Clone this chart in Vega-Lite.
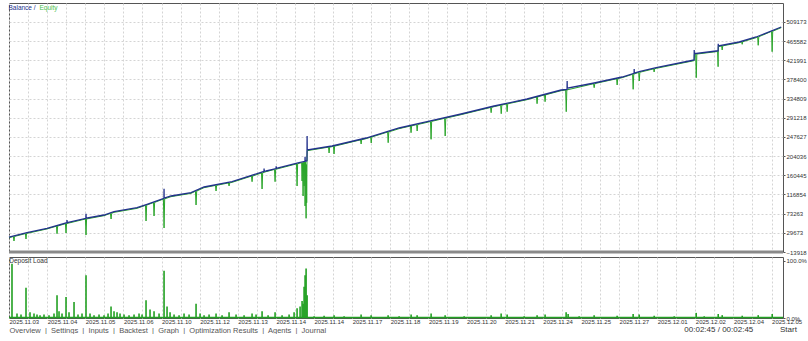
{
  "$schema": "https://vega.github.io/schema/vega-lite/v6.json",
  "padding": {"left": 5, "top": 2, "right": 0, "bottom": 0},
  "background": "white",
  "spacing": 0,
  "title": {"text": "00:02:45 / 00:02:45\u00a0\u00a0\u00a0\u00a0\u00a0\u00a0\u00a0\u00a0\u00a0\u00a0\u00a0\u00a0Start", "orient": "bottom", "anchor": "end", "offset": -8, "dx": -10, "fontSize": 8, "fontWeight": "normal", "color": "#333", "font": "Liberation Sans"},
  "config": {
    "view": {"stroke": "#555", "strokeWidth": 1},
    "font": "Liberation Sans",
    "axis": {"gridColor": "#d4d4d4", "gridDash": [2, 2], "gridWidth": 1, "labelFont": "Liberation Sans", "labelColor": "#333", "domain": false, "tickColor": "#555", "labelOverlap": false, "tickCount": 200}
  },
  "datasets": {
    "bal": [
      {"s": "Balance", "t": 0, "v": 20000}, {"s": "Balance", "t": 9.44, "v": 30000}, {"s": "Balance", "t": 19.94, "v": 40000},
      {"s": "Balance", "t": 30.38, "v": 52600}, {"s": "Balance", "t": 30.43, "v": 58850}, {"s": "Balance", "t": 30.48, "v": 52800},
      {"s": "Balance", "t": 40.35, "v": 62600}, {"s": "Balance", "t": 40.4, "v": 73178}, {"s": "Balance", "t": 40.45, "v": 62800},
      {"s": "Balance", "t": 49.85, "v": 70220}, {"s": "Balance", "t": 55.09, "v": 77724}, {"s": "Balance", "t": 67.16, "v": 86820},
      {"s": "Balance", "t": 72.41, "v": 94552}, {"s": "Balance", "t": 81.28, "v": 108196}, {"s": "Balance", "t": 81.33, "v": 130026},
      {"s": "Balance", "t": 81.38, "v": 108400}, {"s": "Balance", "t": 85.0, "v": 113426}, {"s": "Balance", "t": 95.5, "v": 120930},
      {"s": "Balance", "t": 102.32, "v": 133892}, {"s": "Balance", "t": 117.01, "v": 145944},
      {"s": "Balance", "t": 133.75, "v": 169200}, {"s": "Balance", "t": 133.8, "v": 176000}, {"s": "Balance", "t": 133.85, "v": 169500},
      {"s": "Balance", "t": 134.85, "v": 170276},
      {"s": "Balance", "t": 140.08, "v": 175900}, {"s": "Balance", "t": 140.13, "v": 181000}, {"s": "Balance", "t": 140.18, "v": 176000},
      {"s": "Balance", "t": 152.16, "v": 189150},
      {"s": "Balance", "t": 155.25, "v": 192400}, {"s": "Balance", "t": 155.31, "v": 202794}, {"s": "Balance", "t": 155.37, "v": 192600},
      {"s": "Balance", "t": 155.84, "v": 193016}, {"s": "Balance", "t": 156.3, "v": 193400}, {"s": "Balance", "t": 156.37, "v": 249866},
      {"s": "Balance", "t": 156.44, "v": 218030}, {"s": "Balance", "t": 169.48, "v": 227126}, {"s": "Balance", "t": 187.32, "v": 245318},
      {"s": "Balance", "t": 204.63, "v": 268058}, {"s": "Balance", "t": 219.32, "v": 282384}, {"s": "Balance", "t": 237.16, "v": 299894},
      {"s": "Balance", "t": 254.48, "v": 318086}, {"s": "Balance", "t": 271.79, "v": 334004}, {"s": "Balance", "t": 289.63, "v": 354470},
      {"s": "Balance", "t": 292.72, "v": 356000}, {"s": "Balance", "t": 292.78, "v": 374936}, {"s": "Balance", "t": 292.84, "v": 358500},
      {"s": "Balance", "t": 306.95, "v": 370388}, {"s": "Balance", "t": 321.64, "v": 384032},
      {"s": "Balance", "t": 327.88, "v": 392500}, {"s": "Balance", "t": 327.94, "v": 402224}, {"s": "Balance", "t": 328.0, "v": 392800},
      {"s": "Balance", "t": 330.56, "v": 396084}, {"s": "Balance", "t": 339.48, "v": 405180}, {"s": "Balance", "t": 356.8, "v": 420416},
      {"s": "Balance", "t": 359.38, "v": 422690}, {"s": "Balance", "t": 359.43, "v": 445430}, {"s": "Balance", "t": 359.48, "v": 437016},
      {"s": "Balance", "t": 370.97, "v": 443156}, {"s": "Balance", "t": 371.96, "v": 443600}, {"s": "Balance", "t": 372.02, "v": 459756},
      {"s": "Balance", "t": 372.08, "v": 454526}, {"s": "Balance", "t": 383.04, "v": 463622}, {"s": "Balance", "t": 391.96, "v": 474992},
      {"s": "Balance", "t": 405.07, "v": 497732}
    ],
    "eq": [
      {"s": "Equity", "t": 0, "v": 18500},
      {"s": "Equity", "t": 2.3, "v": 21300}, {"s": "Equity", "t": 2.62, "v": 11096}, {"s": "Equity", "t": 2.9, "v": 21500},
      {"s": "Equity", "t": 8.6, "v": 27900}, {"s": "Equity", "t": 8.92, "v": 15644}, {"s": "Equity", "t": 9.2, "v": 28100},
      {"s": "Equity", "t": 9.44, "v": 28500}, {"s": "Equity", "t": 19.94, "v": 38500},
      {"s": "Equity", "t": 24.9, "v": 44800}, {"s": "Equity", "t": 25.19, "v": 27696}, {"s": "Equity", "t": 25.5, "v": 45000},
      {"s": "Equity", "t": 29.6, "v": 50500}, {"s": "Equity", "t": 29.91, "v": 29288}, {"s": "Equity", "t": 30.2, "v": 50700},
      {"s": "Equity", "t": 40.1, "v": 61100}, {"s": "Equity", "t": 40.4, "v": 24740}, {"s": "Equity", "t": 40.7, "v": 61300},
      {"s": "Equity", "t": 49.85, "v": 68720},
      {"s": "Equity", "t": 53.2, "v": 73900}, {"s": "Equity", "t": 53.54, "v": 61124}, {"s": "Equity", "t": 53.85, "v": 74100},
      {"s": "Equity", "t": 55.09, "v": 76224}, {"s": "Equity", "t": 67.16, "v": 85320},
      {"s": "Equity", "t": 71.6, "v": 92200}, {"s": "Equity", "t": 71.88, "v": 56576}, {"s": "Equity", "t": 72.2, "v": 92400},
      {"s": "Equity", "t": 72.41, "v": 93052},
      {"s": "Equity", "t": 75.8, "v": 98600}, {"s": "Equity", "t": 76.08, "v": 67946}, {"s": "Equity", "t": 76.4, "v": 98900},
      {"s": "Equity", "t": 81.0, "v": 106500}, {"s": "Equity", "t": 81.33, "v": 40658}, {"s": "Equity", "t": 81.65, "v": 106900},
      {"s": "Equity", "t": 85.0, "v": 111926}, {"s": "Equity", "t": 95.5, "v": 119430},
      {"s": "Equity", "t": 97.8, "v": 124300}, {"s": "Equity", "t": 98.12, "v": 92960}, {"s": "Equity", "t": 98.45, "v": 124600},
      {"s": "Equity", "t": 102.32, "v": 132392},
      {"s": "Equity", "t": 108.3, "v": 137500}, {"s": "Equity", "t": 108.61, "v": 124796}, {"s": "Equity", "t": 108.9, "v": 137700},
      {"s": "Equity", "t": 115.1, "v": 143100}, {"s": "Equity", "t": 115.43, "v": 136166}, {"s": "Equity", "t": 115.75, "v": 143300},
      {"s": "Equity", "t": 117.01, "v": 144444},
      {"s": "Equity", "t": 127.2, "v": 158700}, {"s": "Equity", "t": 127.5, "v": 145944}, {"s": "Equity", "t": 127.8, "v": 158900},
      {"s": "Equity", "t": 132.45, "v": 165800}, {"s": "Equity", "t": 132.75, "v": 129344}, {"s": "Equity", "t": 133.05, "v": 166100},
      {"s": "Equity", "t": 134.85, "v": 168776},
      {"s": "Equity", "t": 139.27, "v": 173800}, {"s": "Equity", "t": 139.57, "v": 145944}, {"s": "Equity", "t": 139.87, "v": 174100},
      {"s": "Equity", "t": 150.8, "v": 186400}, {"s": "Equity", "t": 151.11, "v": 136166}, {"s": "Equity", "t": 151.4, "v": 186700},
      {"s": "Equity", "t": 152.16, "v": 187650},
      {"s": "Equity", "t": 153.5, "v": 189000}, {"s": "Equity", "t": 153.73, "v": 147536}, {"s": "Equity", "t": 154.0, "v": 189500},
      {"s": "Equity", "t": 154.26, "v": 113426}, {"s": "Equity", "t": 154.5, "v": 190000}, {"s": "Equity", "t": 154.79, "v": 136166},
      {"s": "Equity", "t": 155.05, "v": 190500}, {"s": "Equity", "t": 155.31, "v": 90686}, {"s": "Equity", "t": 155.55, "v": 191000},
      {"s": "Equity", "t": 155.84, "v": 62716}, {"s": "Equity", "t": 156.0, "v": 185000}, {"s": "Equity", "t": 156.15, "v": 98056},
      {"s": "Equity", "t": 156.3, "v": 191800}, {"s": "Equity", "t": 156.44, "v": 216530},
      {"s": "Equity", "t": 167.6, "v": 224500}, {"s": "Equity", "t": 167.9, "v": 211208}, {"s": "Equity", "t": 168.2, "v": 224700},
      {"s": "Equity", "t": 169.48, "v": 225626},
      {"s": "Equity", "t": 170.2, "v": 226500}, {"s": "Equity", "t": 170.5, "v": 208934}, {"s": "Equity", "t": 170.8, "v": 226800},
      {"s": "Equity", "t": 184.4, "v": 241100}, {"s": "Equity", "t": 184.7, "v": 231674}, {"s": "Equity", "t": 185.0, "v": 241400},
      {"s": "Equity", "t": 187.32, "v": 243818},
      {"s": "Equity", "t": 189.7, "v": 247200}, {"s": "Equity", "t": 190.0, "v": 233948}, {"s": "Equity", "t": 190.3, "v": 247500},
      {"s": "Equity", "t": 198.6, "v": 258900}, {"s": "Equity", "t": 198.9, "v": 234630}, {"s": "Equity", "t": 199.2, "v": 259200},
      {"s": "Equity", "t": 204.63, "v": 266558},
      {"s": "Equity", "t": 210.6, "v": 272600}, {"s": "Equity", "t": 210.9, "v": 257370}, {"s": "Equity", "t": 211.2, "v": 272900},
      {"s": "Equity", "t": 213.8, "v": 275700}, {"s": "Equity", "t": 214.1, "v": 261236}, {"s": "Equity", "t": 214.4, "v": 276000},
      {"s": "Equity", "t": 219.32, "v": 280884},
      {"s": "Equity", "t": 221.1, "v": 282800}, {"s": "Equity", "t": 221.4, "v": 242362}, {"s": "Equity", "t": 221.7, "v": 283100},
      {"s": "Equity", "t": 228.5, "v": 290100}, {"s": "Equity", "t": 228.8, "v": 249866}, {"s": "Equity", "t": 229.1, "v": 290400},
      {"s": "Equity", "t": 237.16, "v": 298394},
      {"s": "Equity", "t": 252.6, "v": 314800}, {"s": "Equity", "t": 252.9, "v": 302850}, {"s": "Equity", "t": 253.2, "v": 315100},
      {"s": "Equity", "t": 254.48, "v": 316586},
      {"s": "Equity", "t": 257.9, "v": 319900}, {"s": "Equity", "t": 258.2, "v": 300576}, {"s": "Equity", "t": 258.5, "v": 320200},
      {"s": "Equity", "t": 261.0, "v": 322800}, {"s": "Equity", "t": 261.3, "v": 305124}, {"s": "Equity", "t": 261.6, "v": 323100},
      {"s": "Equity", "t": 271.79, "v": 332504},
      {"s": "Equity", "t": 276.7, "v": 338500}, {"s": "Equity", "t": 277.0, "v": 323316}, {"s": "Equity", "t": 277.3, "v": 338800},
      {"s": "Equity", "t": 280.9, "v": 343300}, {"s": "Equity", "t": 281.2, "v": 327864}, {"s": "Equity", "t": 281.5, "v": 343600},
      {"s": "Equity", "t": 289.63, "v": 352970},
      {"s": "Equity", "t": 292.0, "v": 354400}, {"s": "Equity", "t": 292.3, "v": 305124}, {"s": "Equity", "t": 292.6, "v": 354600},
      {"s": "Equity", "t": 306.6, "v": 368700}, {"s": "Equity", "t": 306.95, "v": 359700}, {"s": "Equity", "t": 307.3, "v": 369100},
      {"s": "Equity", "t": 318.7, "v": 380000}, {"s": "Equity", "t": 319.0, "v": 365840}, {"s": "Equity", "t": 319.3, "v": 380300},
      {"s": "Equity", "t": 321.64, "v": 382532},
      {"s": "Equity", "t": 327.1, "v": 390200}, {"s": "Equity", "t": 327.4, "v": 356062}, {"s": "Equity", "t": 327.7, "v": 390500},
      {"s": "Equity", "t": 330.3, "v": 394300}, {"s": "Equity", "t": 330.6, "v": 374936}, {"s": "Equity", "t": 330.9, "v": 394800},
      {"s": "Equity", "t": 338.1, "v": 402500}, {"s": "Equity", "t": 338.4, "v": 395402}, {"s": "Equity", "t": 338.7, "v": 402900},
      {"s": "Equity", "t": 339.48, "v": 403680}, {"s": "Equity", "t": 356.8, "v": 418916},
      {"s": "Equity", "t": 359.38, "v": 421190}, {"s": "Equity", "t": 359.48, "v": 435516},
      {"s": "Equity", "t": 360.2, "v": 436000}, {"s": "Equity", "t": 360.5, "v": 382440}, {"s": "Equity", "t": 360.8, "v": 436200},
      {"s": "Equity", "t": 370.97, "v": 441656},
      {"s": "Equity", "t": 371.7, "v": 442000}, {"s": "Equity", "t": 371.96, "v": 407454}, {"s": "Equity", "t": 372.08, "v": 453026},
      {"s": "Equity", "t": 373.8, "v": 454600}, {"s": "Equity", "t": 374.1, "v": 445430}, {"s": "Equity", "t": 374.4, "v": 454900},
      {"s": "Equity", "t": 383.04, "v": 462122},
      {"s": "Equity", "t": 384.3, "v": 464000}, {"s": "Equity", "t": 384.6, "v": 458392}, {"s": "Equity", "t": 384.9, "v": 464300},
      {"s": "Equity", "t": 391.96, "v": 473492},
      {"s": "Equity", "t": 392.7, "v": 475200}, {"s": "Equity", "t": 393.0, "v": 456118}, {"s": "Equity", "t": 393.3, "v": 475500},
      {"s": "Equity", "t": 400.0, "v": 487900}, {"s": "Equity", "t": 400.3, "v": 441564}, {"s": "Equity", "t": 400.6, "v": 488200},
      {"s": "Equity", "t": 405.07, "v": 496232}
    ],
    "load": [
      {"t": 1.57, "p": 0.95}, {"t": 4.2, "p": 0.08}, {"t": 6.3, "p": 0.06}, {"t": 8.92, "p": 0.53}, {"t": 11.02, "p": 0.1},
      {"t": 13.12, "p": 0.08}, {"t": 14.69, "p": 0.06}, {"t": 16.27, "p": 0.05}, {"t": 18.36, "p": 0.06}, {"t": 20.99, "p": 0.05},
      {"t": 23.61, "p": 0.08}, {"t": 25.19, "p": 0.4}, {"t": 26.24, "p": 0.12}, {"t": 27.81, "p": 0.08}, {"t": 29.91, "p": 0.37},
      {"t": 31.48, "p": 0.1}, {"t": 34.11, "p": 0.28}, {"t": 36.2, "p": 0.06}, {"t": 38.3, "p": 0.08}, {"t": 40.4, "p": 0.75},
      {"t": 42.5, "p": 0.08}, {"t": 44.6, "p": 0.05}, {"t": 47.22, "p": 0.06}, {"t": 49.85, "p": 0.05}, {"t": 51.95, "p": 0.08},
      {"t": 53.52, "p": 0.2}, {"t": 55.09, "p": 0.12}, {"t": 56.67, "p": 0.1}, {"t": 58.24, "p": 0.08}, {"t": 60.34, "p": 0.06},
      {"t": 62.96, "p": 0.05}, {"t": 65.59, "p": 0.06}, {"t": 68.21, "p": 0.08}, {"t": 69.79, "p": 0.06}, {"t": 71.88, "p": 0.31},
      {"t": 73.98, "p": 0.15}, {"t": 76.08, "p": 0.12}, {"t": 78.71, "p": 0.08}, {"t": 81.33, "p": 0.83}, {"t": 82.9, "p": 0.2},
      {"t": 84.48, "p": 0.1}, {"t": 86.58, "p": 0.06}, {"t": 89.2, "p": 0.05}, {"t": 91.82, "p": 0.08}, {"t": 94.45, "p": 0.06},
      {"t": 98.12, "p": 0.25}, {"t": 100.22, "p": 0.08}, {"t": 102.32, "p": 0.05}, {"t": 104.94, "p": 0.06}, {"t": 108.61, "p": 0.08},
      {"t": 111.76, "p": 0.05}, {"t": 115.43, "p": 0.1}, {"t": 119.11, "p": 0.06}, {"t": 123.31, "p": 0.05}, {"t": 127.5, "p": 0.08},
      {"t": 129.6, "p": 0.06}, {"t": 132.75, "p": 0.12}, {"t": 135.9, "p": 0.05}, {"t": 139.57, "p": 0.1}, {"t": 143.24, "p": 0.05},
      {"t": 146.92, "p": 0.06}, {"t": 149.54, "p": 0.1}, {"t": 151.11, "p": 0.17}, {"t": 152.69, "p": 0.2}, {"t": 153.73, "p": 0.3},
      {"t": 154.26, "p": 0.25}, {"t": 154.79, "p": 0.55}, {"t": 155.31, "p": 0.75}, {"t": 155.84, "p": 0.87}, {"t": 156.37, "p": 0.4},
      {"t": 160.03, "p": 0.03}, {"t": 165.28, "p": 0.04}, {"t": 170.53, "p": 0.05}, {"t": 175.77, "p": 0.03}, {"t": 184.69, "p": 0.06},
      {"t": 189.94, "p": 0.05}, {"t": 198.86, "p": 0.05}, {"t": 204.63, "p": 0.03}, {"t": 210.93, "p": 0.06}, {"t": 214.08, "p": 0.05},
      {"t": 221.42, "p": 0.08}, {"t": 228.77, "p": 0.05}, {"t": 238.74, "p": 0.03}, {"t": 252.9, "p": 0.05}, {"t": 258.15, "p": 0.08},
      {"t": 261.3, "p": 0.06}, {"t": 270.22, "p": 0.03}, {"t": 277.01, "p": 0.05}, {"t": 281.21, "p": 0.06}, {"t": 292.24, "p": 0.1},
      {"t": 293.29, "p": 0.07}, {"t": 299.06, "p": 0.03}, {"t": 306.93, "p": 0.05}, {"t": 318.99, "p": 0.04}, {"t": 327.39, "p": 0.07},
      {"t": 330.56, "p": 0.06}, {"t": 338.43, "p": 0.04}, {"t": 348.93, "p": 0.03}, {"t": 360.47, "p": 0.09}, {"t": 364.67, "p": 0.03},
      {"t": 372.02, "p": 0.07}, {"t": 374.11, "p": 0.05}, {"t": 384.61, "p": 0.04}, {"t": 393.0, "p": 0.05}, {"t": 400.34, "p": 0.07}
    ]
  },
  "vconcat": [
    {
      "width": 774,
      "height": 249,
      "layer": [
        {
          "data": {"name": "eq"},
          "mark": {"type": "line", "strokeWidth": 1},
          "encoding": {
            "x": {"field": "t", "type": "quantitative", "scale": {"domain": [0, 406], "nice": false, "zero": false},
                  "axis": {"values": [0,10,20,30,40,50,60,70,80,90,100,110,120,130,140,150,160,170,180,190,200,210,220,230,240,250,260,270,280,290,300,310,320,330,340,350,360,370,380,390,400], "tickCount": 200, "labels": false, "ticks": false, "title": null, "grid": true}},
            "y": {"field": "v", "type": "quantitative", "scale": {"domain": [-13918, 552300], "nice": false, "zero": false},
                  "axis": {"orient": "right", "values": [-13918, 29673, 73263, 116854, 160445, 204036, 247627, 291218, 334809, 378400, 421991, 465582, 509173], "tickCount": 200, "labelOverlap": false, "format": "d", "title": null, "labelFontSize": 6, "tickSize": 2, "labelPadding": 1, "grid": true}},
            "color": {"field": "s", "type": "nominal", "scale": {"domain": ["Balance", "Equity"], "range": ["#22318c", "#2aa52a"]},
                      "legend": {"orient": "top-left", "direction": "horizontal", "title": null, "offset": 0, "padding": 2, "symbolType": "square", "symbolSize": 0, "symbolStrokeWidth": 0, "symbolOpacity": 0, "labelOffset": -9, "columnPadding": 3, "gridAlign": "none", "labelFontSize": 6.5, "labelFont": "Liberation Sans",
                                 "labelExpr": "datum.label == 'Balance' ? 'Balance /' : 'Equity'",
                                 "labelColor": {"expr": "datum.label == 'Balance' ? '#22318c' : '#4cc24c'"}}}
          }
        },
        {
          "data": {"name": "bal"},
          "mark": {"type": "line", "strokeWidth": 1.3},
          "encoding": {
            "x": {"field": "t", "type": "quantitative"},
            "y": {"field": "v", "type": "quantitative"},
            "color": {"field": "s", "type": "nominal"}
          }
        },
        {
          "data": {"values": [{}]},
          "mark": {"type": "rule", "color": "#8a8a8a", "strokeWidth": 3},
          "encoding": {"y": {"datum": -13918}}
        }
      ]
    },
    {
      "width": 774,
      "height": 61,
      "title": {"text": "Deposit Load", "anchor": "start", "offset": -7, "fontSize": 6.5, "fontWeight": "normal", "color": "#333", "dx": 1},
      "layer": [
        {
          "data": {"name": "load"},
          "mark": {"type": "rule", "color": "#22a022", "strokeWidth": 1.6},
          "encoding": {
            "x": {"field": "t", "type": "quantitative", "scale": {"domain": [0, 406], "nice": false, "zero": false},
                  "axis": {"values": [0,10,20,30,40,50,60,70,80,90,100,110,120,130,140,150,160,170,180,190,200,210,220,230,240,250,260,270,280,290,300,310,320,330,340,350,360,370,380,390,400], "tickCount": 200,
                           "labelExpr": "datum.value % 20 == 0 ? ['2025.11.03','2025.11.04','2025.11.05','2025.11.06','2025.11.10','2025.11.12','2025.11.13','2025.11.14','2025.11.14','2025.11.17','2025.11.18','2025.11.19','2025.11.20','2025.11.21','2025.11.24','2025.11.25','2025.11.27','2025.12.01','2025.12.02','2025.12.04','2025.12.05'][round(datum.value / 20)] : ''",
                           "labelAlign": "left", "labelFontSize": 6, "ticks": false, "labelPadding": 0, "grid": true, "labelOverlap": false, "labelBound": false, "labelFlush": false,
                           "title": "Overview \u00a0|\u00a0 Settings \u00a0|\u00a0 Inputs \u00a0|\u00a0 Backtest \u00a0|\u00a0 Graph \u00a0|\u00a0 Optimization Results \u00a0|\u00a0 Agents \u00a0|\u00a0 Journal",
                           "titleAnchor": "start", "titleAlign": "left", "titleFontSize": 7.5, "titleFontWeight": "normal", "titleColor": "#555", "titlePadding": 2}},
            "y": {"field": "p", "type": "quantitative", "scale": {"domain": [0, 1.07], "nice": false, "zero": true},
                  "axis": {"orient": "right", "values": [0, 1], "format": ".1%", "labelFontSize": 6, "tickSize": 2, "labelPadding": 1, "grid": false, "title": null}},
            "y2": {"datum": 0}
          }
        },
        {
          "data": {"values": [{}]},
          "mark": {"type": "rule", "color": "#22a022", "strokeWidth": 1.5},
          "encoding": {"y": {"datum": 0.01}}
        }
      ]
    }
  ]
}
